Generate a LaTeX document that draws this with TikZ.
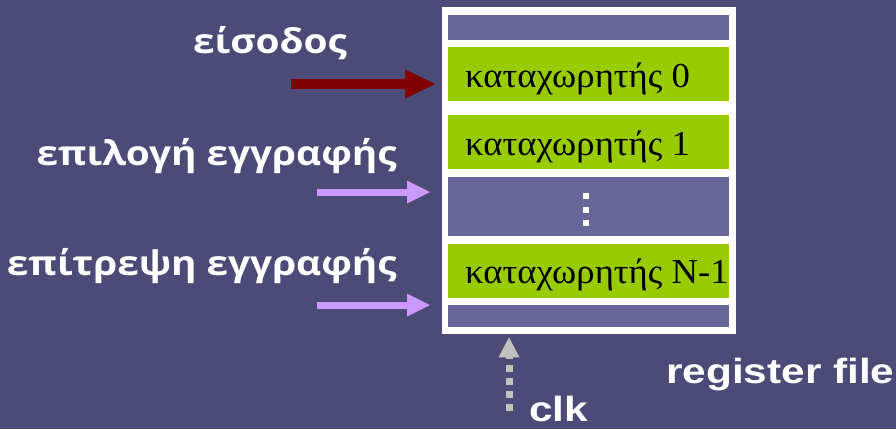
\documentclass[tikz,border=0pt]{standalone}
\usepackage{fontspec}
\usetikzlibrary{arrows.meta}
\newfontfamily\greeksans{Open Sans}[FakeStretch=1.14]
\newfontfamily\latinsans{Liberation Sans}[FakeStretch=1.21]
\newfontfamily\greekserif{Liberation Serif}[FakeStretch=1.05]
\definecolor{bgpurple}{RGB}{76,74,118}
\definecolor{slotpurple}{RGB}{102,102,153}
\definecolor{reggreen}{RGB}{153,204,0}
\definecolor{datared}{RGB}{128,0,0}
\definecolor{ctrllilac}{RGB}{204,153,255}
\definecolor{clkgray}{RGB}{192,192,192}
\tikzset{
  label/.style={text=white, inner sep=0pt, font=\greeksans\bfseries\fontsize{34}{34}\selectfont},
  latlabel/.style={text=white, inner sep=0pt, font=\latinsans\bfseries\fontsize{35}{35}\selectfont},
  slot/.style={fill=slotpurple, draw=none, minimum width=281pt, anchor=north west, inner sep=0pt},
  regslot/.style={fill=reggreen, draw=none, minimum width=281pt, anchor=north west, inner sep=0pt},
  regtext/.style={inner sep=0pt, anchor=base west, text=black, font=\greekserif\fontsize{35}{35}\selectfont},
  dataarrow/.style={draw=datared, line width=10pt, -{Triangle[length=30pt,width=29pt,line width=0pt]}},
  ctrlarrow/.style={draw=ctrllilac, line width=7pt, -{Triangle[length=23pt,width=23pt,line width=0pt]}},
  clkarrow/.style={draw=clkgray, line width=7pt, dash pattern=on 7pt off 6pt, -{Triangle[length=20pt,width=21pt,line width=0pt]}},
}
\begin{document}
\begin{tikzpicture}[x=1pt, y=-1pt]
  \fill[bgpurple] (0,0) rectangle (896,429);
  \useasboundingbox (0,0) rectangle (896,429);

  % register file frame
  \node[fill=white, anchor=north west, minimum width=294pt, minimum height=327pt, inner sep=0pt] (rf) at (442,7) {};

  % slots
  \node[slot, minimum height=25pt] (top) at (448,15) {};
  \node[regslot, minimum height=54pt] (r0) at (448,47) {};
  \node[regslot, minimum height=54pt] (r1) at (448,115) {};
  \node[slot, minimum height=59pt] (mid) at (448,177) {};
  \node[regslot, minimum height=54pt] (rn) at (448,244) {};
  \node[slot, minimum height=22pt] (bot) at (448,305) {};

  \node[regtext] (t0) at (465,87) {καταχωρητής 0};
  \node[regtext] (t1) at (465,155) {καταχωρητής 1};
  \node[regtext] (tn) at (465,283) {καταχωρητής N-1};

  % vertical ellipsis in the middle slot
  \foreach \yy in {193,207,220} {
    \fill[white] (583,\yy) rectangle (589,\yy+6);
  }

  % labels
  \node[label, anchor=base] (in) at (270,53) {είσοδος};
  \node[label, anchor=base east] (sel) at (397,165) {επιλογή εγγραφής};
  \node[label, anchor=base east] (en) at (397,275) {επίτρεψη εγγραφής};
  \node[latlabel, anchor=base west] (rfl) at (666,383) {register file};
  \node[latlabel, anchor=base west] (clk) at (529,421) {clk};

  % input arrows
  \coordinate (inS) at (291,84);
  \coordinate (selS) at (317,192);
  \coordinate (enS) at (317,305);
  \draw[dataarrow, shorten >=7pt] (inS) -- (inS -| rf.west);
  \draw[ctrlarrow, shorten >=12pt] (selS) -- (selS -| rf.west);
  \draw[ctrlarrow, shorten >=12pt] (enS) -- (enS -| rf.west);

  % clock arrow
  \coordinate (clkS) at (509,411);
  \draw[clkarrow, shorten >=3pt] (clkS) -- (clkS |- rf.south);
\end{tikzpicture}
\end{document}
